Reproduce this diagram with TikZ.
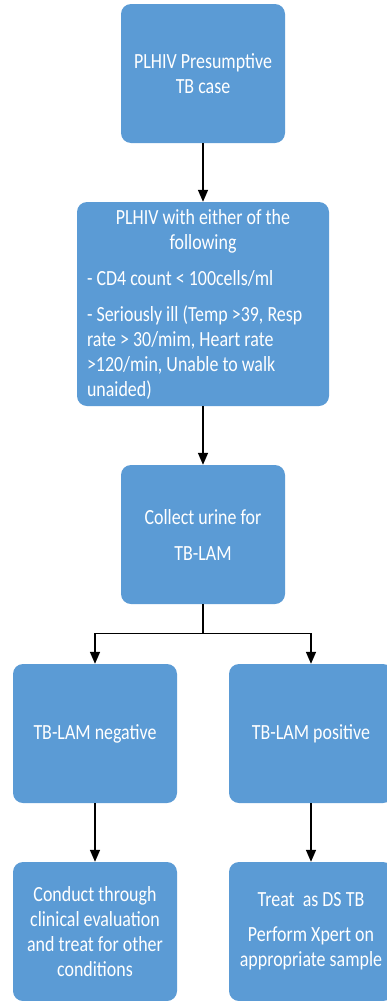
\documentclass[tikz,border=0pt]{standalone}
\usepackage{fontspec}
\setmainfont{Carlito}[FakeStretch=0.83]
\usetikzlibrary{arrows.meta}
\definecolor{boxblue}{HTML}{5B9BD5}
\tikzset{
  flowbox/.style={fill=boxblue, draw=none, rounded corners=10pt, text=white,
    minimum width=164pt, minimum height=139pt, inner sep=0pt, align=center,
    font=\fontsize{21.6}{25}\selectfont},
  arr/.style={draw=black, line width=1.5pt, -{Triangle[width=10pt,length=12pt]}},
  plain/.style={draw=black, line width=1.5pt}
}
\begin{document}
\begin{tikzpicture}[x=1pt,y=-1pt]
\useasboundingbox (0,0) rectangle (386,1001);
\node[flowbox] (b1) at (203,73.5) {PLHIV Presumptive\\TB case};
\node[flowbox, minimum width=252pt, minimum height=204pt] (b2) at (203,304)
  {\begin{minipage}{232pt}\fontsize{21.6}{25}\selectfont\setlength{\parskip}{11pt}%
   \centering PLHIV with either of the\\following\par
   \raggedright - CD4 count < 100cells/ml\par
   - Seriously ill (Temp >39, Resp\\rate > 30/mim, Heart rate\\>120/min, Unable to walk\\unaided)\end{minipage}};
\node[flowbox] (b3) at (203,534.5) {Collect urine for\\[11pt]TB-LAM};
\node[flowbox] (b4) at (95,733.5) {TB-LAM negative};
\node[flowbox] (b5) at (311,733.5) {TB-LAM positive};
\node[flowbox] (b6) at (95,931.5) {Conduct through\\clinical evaluation\\and treat for other\\conditions};
\node[flowbox] (b7) at (311,931.5) {Treat\ \ as DS TB\\[10pt]Perform Xpert on\\appropriate sample};
\coordinate (j) at (203,633.5);
\draw[arr] (b1) -- (b2);
\draw[arr] (b2) -- (b3);
\draw[plain] (b3) -- (j);
\draw[arr] (j) -| (b4);
\draw[arr] (j) -| (b5);
\draw[arr] (b4) -- (b6);
\draw[arr] (b5) -- (b7);
\end{tikzpicture}
\end{document}
